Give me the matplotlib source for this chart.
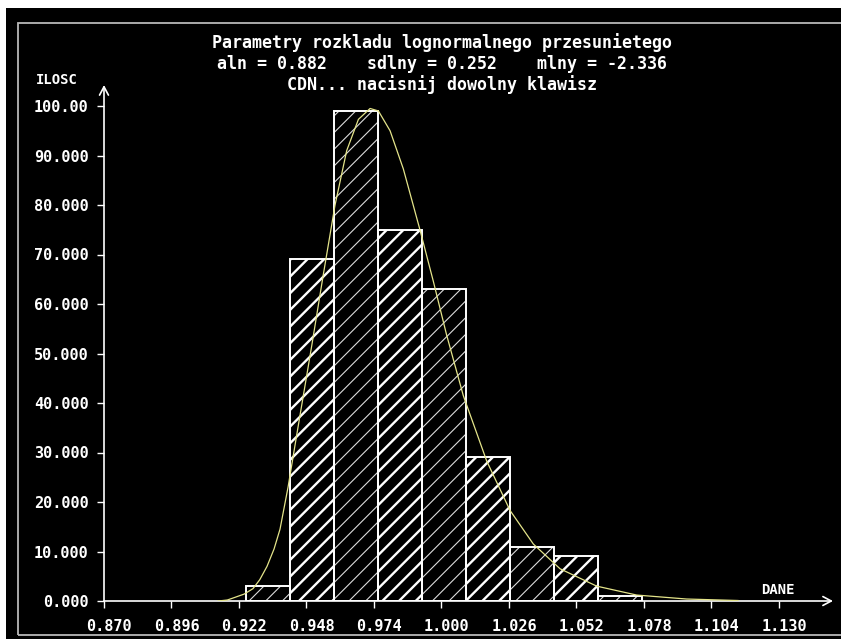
import numpy as np
import matplotlib
matplotlib.use("Agg")
import matplotlib.pyplot as plt
import matplotlib.transforms as mtransforms
from matplotlib.patches import Rectangle

# ---------------- data ----------------
bin_edges = [0.9247, 0.9417, 0.9586, 0.9756, 0.9925, 1.0095, 1.0264, 1.0434, 1.0603, 1.0773]
counts = [3, 69, 99, 75, 63, 29, 11, 9, 1]

curve_x = [0.9140, 0.9175, 0.9197, 0.9240, 0.9274, 0.9300, 0.9328, 0.9355, 0.9378,
           0.9409, 0.9447, 0.9500, 0.9545, 0.9590, 0.9635, 0.9680, 0.9725, 0.9757,
           0.9802, 0.9853, 0.9917, 0.9969, 1.0020, 1.0084, 1.0174, 1.0264, 1.0354,
           1.0457, 1.0598, 1.0752, 1.0944, 1.1142]
curve_y = [0.0, 0.2, 0.6, 1.4, 2.5, 4.3, 7.0, 10.5, 14.5,
           23.0, 35.0, 51.5, 66.0, 80.0, 91.0, 97.3, 99.5, 99.0,
           95.0, 87.3, 75.0, 64.5, 53.7, 41.5, 28.3, 18.3, 11.5,
           6.5, 3.0, 1.2, 0.4, 0.1]

x_ticks = [0.870, 0.896, 0.922, 0.948, 0.974, 1.000, 1.026, 1.052, 1.078, 1.104, 1.130]
x_tick_labels = ["0.870", "0.896", "0.922", "0.948", "0.974", "1.000",
                 "1.026", "1.052", "1.078", "1.104", "1.130"]
y_ticks = [0, 10, 20, 30, 40, 50, 60, 70, 80, 90, 100]
y_tick_labels = ["0.000", "10.000", "20.000", "30.000", "40.000", "50.000",
                 "60.000", "70.000", "80.000", "90.000", "100.00"]

title_lines = ["Parametry rozkladu lognormalnego przesunietego",
               "aln = 0.882    sdlny = 0.252    mlny = -2.336",
               "CDN... nacisnij dowolny klawisz"]
y_axis_label = "ILOSC"
x_axis_label = "DANE"

# ---------------- figure ----------------
W, H = 841, 639
fig = plt.figure(figsize=(W / 100, H / 100), dpi=100, facecolor="white")

def fx(px):
    return px / W

def fy(py):
    return 1 - py / H

# black screen area and light frame
fig.patches.append(Rectangle((fx(6), 0), 1 - fx(6), fy(8), transform=fig.transFigure,
                             facecolor="black", edgecolor="none", zorder=-10))
fig.patches.append(Rectangle((fx(18), fy(635)), fx(830), fy(23) - fy(635),
                             transform=fig.transFigure, facecolor="none",
                             edgecolor="#b8b8b8", linewidth=1.3, zorder=-5))

x0_px, x1_px = 104, 833
y0_px, y1_px = 601, 85
ax = fig.add_axes([fx(x0_px), fy(y0_px), fx(x1_px - x0_px), (y0_px - y1_px) / H])
ax.set_facecolor("none")
ax.set_xlim(0.870, 0.870 + (x1_px - x0_px) / 2596.0)
ax.set_ylim(0, (y0_px - y1_px) / 4.95)
for s in ax.spines.values():
    s.set_visible(False)

mono = "DejaVu Sans Mono"

# bars: alternating bold / thin hatch
lefts = np.array(bin_edges[:-1])
widths = np.diff(bin_edges)
for i, (l, w, c) in enumerate(zip(lefts, widths, counts)):
    bold = (i % 2 == 1)
    bar = ax.bar(l, c, width=w, align="edge", color="none",
                 edgecolor="white" if bold else "#dcdcdc",
                 linewidth=0, hatch="//", zorder=2)[0]
    if hasattr(bar, "set_hatch_linewidth"):
        bar.set_hatch_linewidth(1.7 if bold else 0.8)
    else:
        plt.rcParams["hatch.linewidth"] = 1.3
ax.bar(lefts, counts, width=widths, align="edge", color="none",
       edgecolor="white", linewidth=1.4, zorder=3)

# fitted curve
ax.plot(curve_x, curve_y, color="#e4e48a", linewidth=0.9, zorder=4)

# axes with arrows
xl = ax.get_xlim()
yl = ax.get_ylim()
ap = dict(arrowstyle="->,head_length=0.6,head_width=0.32", color="white",
          lw=1.2, shrinkA=0, shrinkB=0)
ax.annotate("", xy=(xl[1], 0), xytext=(xl[0], 0), arrowprops=ap, annotation_clip=False)
ax.annotate("", xy=(xl[0], yl[1]), xytext=(xl[0], 0), arrowprops=ap, annotation_clip=False)

ax.set_xticks(x_ticks)
ax.set_xticklabels(x_tick_labels)
ax.set_yticks(y_ticks)
ax.set_yticklabels(y_tick_labels)
ax.tick_params(axis="both", direction="out", length=5, width=1, color="white",
               labelcolor="white", labelsize=11)
ax.tick_params(axis="x", pad=8)
ax.tick_params(axis="y", pad=6)
for lab in ax.get_xticklabels() + ax.get_yticklabels():
    lab.set_fontfamily(mono)
    lab.set_fontweight("bold")
offset = mtransforms.ScaledTranslation(5 / 100, 0, fig.dpi_scale_trans)
for lab in ax.get_xticklabels():
    lab.set_transform(lab.get_transform() + offset)

# titles
for txt, ypx in zip(title_lines, [43, 64, 85]):
    fig.text(fx(442), fy(ypx), txt, color="white", ha="center", va="center",
             fontsize=12, family=mono, fontweight="bold")

fig.text(fx(57), fy(80), y_axis_label, color="white", ha="center", va="center",
         fontsize=10, family=mono, fontweight="bold")
fig.text(fx(778), fy(590), x_axis_label, color="white", ha="center", va="center",
         fontsize=10, family=mono, fontweight="bold")

fig.savefig("out.png", dpi=100, facecolor="white")
